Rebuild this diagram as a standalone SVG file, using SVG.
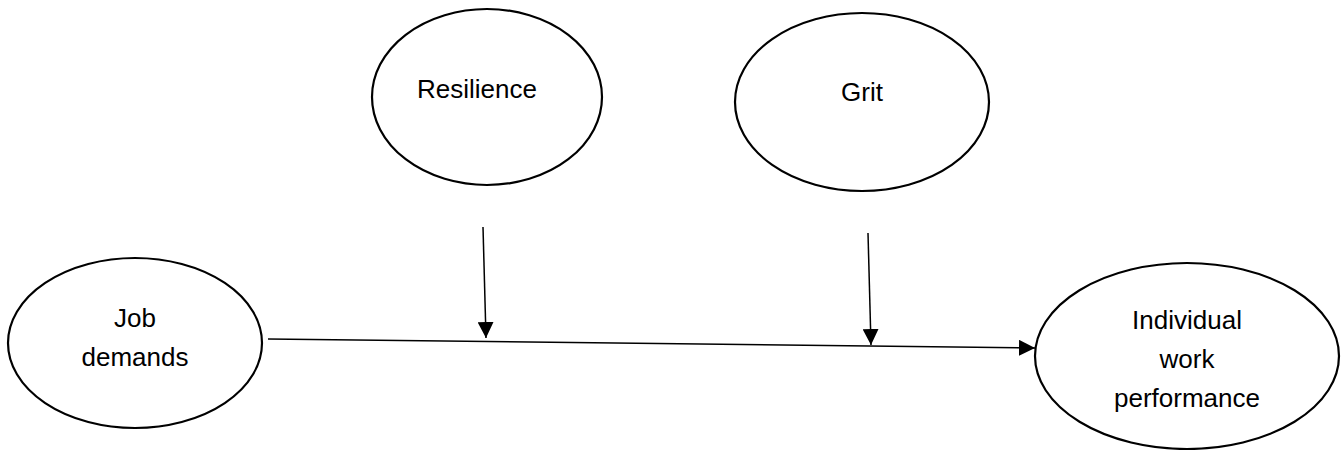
<svg xmlns="http://www.w3.org/2000/svg" width="1344" height="450" viewBox="0 0 1344 450">
<style>
.node{fill:#fff;stroke:#000;stroke-width:2.2}
.lbl{font-family:"Liberation Sans",Arial,sans-serif;font-size:26px;fill:#000;text-anchor:middle}
.conn{stroke:#000;stroke-width:1.5;fill:none}
</style>
<defs>
<marker id="ah" viewBox="0 0 10 10" refX="10" refY="5" markerWidth="16" markerHeight="16" markerUnits="userSpaceOnUse" orient="auto">
<path d="M0,0 L10,5 L0,10 Z" fill="#000"/>
</marker>
</defs>
<rect width="1344" height="450" fill="#fff"/>
<g id="resilience">
<ellipse class="node" cx="487" cy="97" rx="115" ry="88"/>
<text class="lbl" x="477" y="98">Resilience</text>
</g>
<g id="grit">
<ellipse class="node" cx="862" cy="102" rx="127" ry="89"/>
<text class="lbl" x="862" y="101">Grit</text>
</g>
<g id="job-demands">
<ellipse class="node" cx="135" cy="343" rx="127" ry="85"/>
<text class="lbl" x="135" y="327">Job</text>
<text class="lbl" x="135" y="366">demands</text>
</g>
<g id="individual-work-performance">
<ellipse class="node" cx="1187" cy="356" rx="152" ry="93"/>
<text class="lbl" x="1187" y="329">Individual</text>
<text class="lbl" x="1187" y="368">work</text>
<text class="lbl" x="1187" y="407">performance</text>
</g>
<g id="connectors">
<line class="conn" x1="268" y1="339" x2="1035" y2="348" marker-end="url(#ah)"/>
<line class="conn" x1="483" y1="227" x2="486" y2="338" marker-end="url(#ah)"/>
<line class="conn" x1="868" y1="233" x2="871" y2="345" marker-end="url(#ah)"/>
</g>
</svg>
